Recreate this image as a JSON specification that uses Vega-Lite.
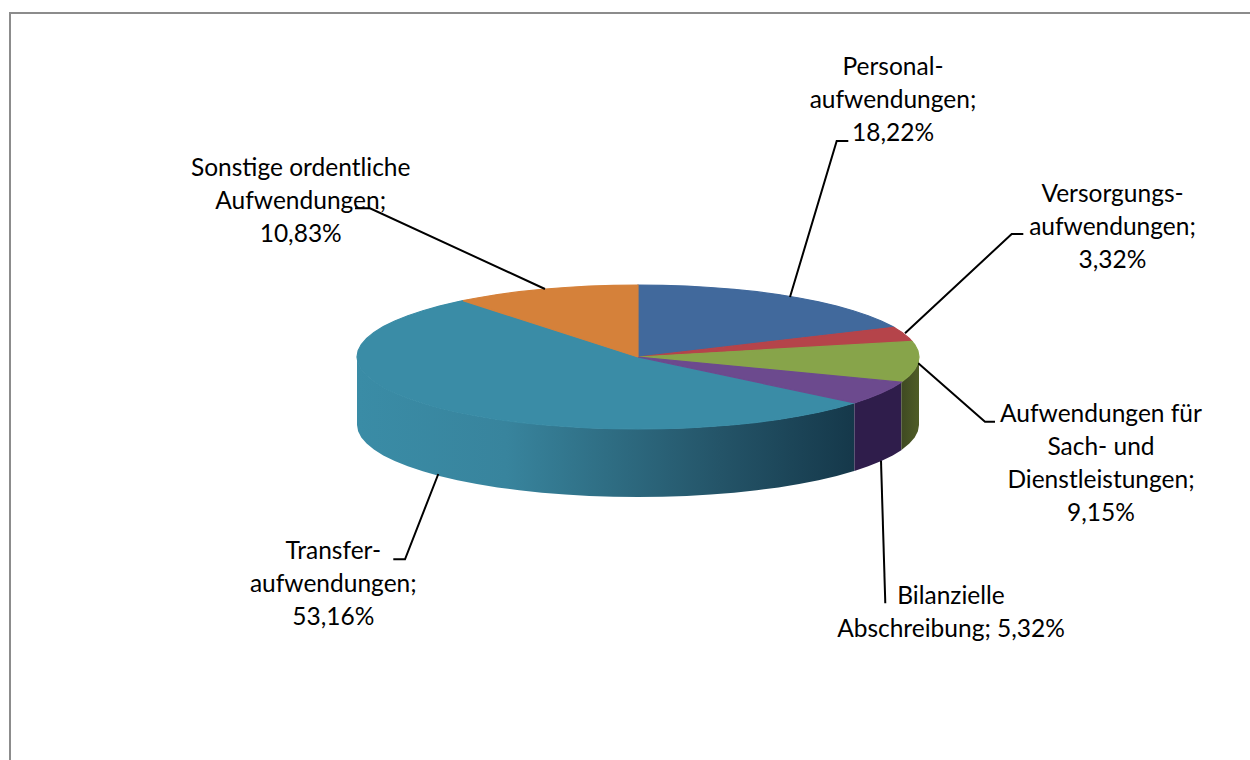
{
"$schema":"https://vega.github.io/schema/vega-lite/v6.json",
"width":1250,"height":760,"padding":0,"autosize":{"type":"none"},"background":"white",
"view":{"stroke":null},
"config":{"view":{"stroke":null}},
"datasets":{
"frame":[{"i":1,"x":10,"y":760},{"i":2,"x":10,"y":13},{"i":3,"x":1250,"y":13}],
"side":[
{"part":"Green","x":919,"y":357,"y2":425},{"part":"Green","x":917.9,"y":363.3,"y2":431.3},{"part":"Green","x":914.7,"y":369.5,"y2":437.5},{"part":"Green","x":909.4,"y":375.6,"y2":443.6},{"part":"Green","x":902.1,"y":381.6,"y2":449.6},{"part":"Green","x":901.3,"y":382.2,"y2":450.2},
{"part":"Purple","x":901.3,"y":382.2,"y2":450.2},{"part":"Purple","x":892.7,"y":387.4,"y2":455.4},{"part":"Purple","x":881.3,"y":393,"y2":461},{"part":"Purple","x":868.2,"y":398.3,"y2":466.3},{"part":"Purple","x":854.4,"y":402.9,"y2":470.9},
{"part":"Teal","x":854.4,"y":402.9,"y2":470.9},{"part":"Teal","x":853.2,"y":403.3,"y2":471.3},{"part":"Teal","x":836.7,"y":407.9,"y2":475.9},{"part":"Teal","x":818.6,"y":412.2,"y2":480.2},{"part":"Teal","x":799.2,"y":416,"y2":484},{"part":"Teal","x":778.5,"y":419.4,"y2":487.4},{"part":"Teal","x":756.8,"y":422.3,"y2":490.3},{"part":"Teal","x":734.1,"y":424.7,"y2":492.7},{"part":"Teal","x":710.7,"y":426.5,"y2":494.5},{"part":"Teal","x":686.8,"y":427.9,"y2":495.9},{"part":"Teal","x":662.5,"y":428.7,"y2":496.7},{"part":"Teal","x":638,"y":429,"y2":497},{"part":"Teal","x":613.5,"y":428.7,"y2":496.7},{"part":"Teal","x":589.2,"y":427.9,"y2":495.9},{"part":"Teal","x":565.3,"y":426.5,"y2":494.5},{"part":"Teal","x":541.9,"y":424.7,"y2":492.7},{"part":"Teal","x":519.2,"y":422.3,"y2":490.3},{"part":"Teal","x":497.5,"y":419.4,"y2":487.4},{"part":"Teal","x":476.8,"y":416,"y2":484},{"part":"Teal","x":457.4,"y":412.2,"y2":480.2},{"part":"Teal","x":439.3,"y":407.9,"y2":475.9},{"part":"Teal","x":422.8,"y":403.3,"y2":471.3},{"part":"Teal","x":407.8,"y":398.3,"y2":466.3},{"part":"Teal","x":394.7,"y":393,"y2":461},{"part":"Teal","x":383.3,"y":387.4,"y2":455.4},{"part":"Teal","x":373.9,"y":381.6,"y2":449.6},{"part":"Teal","x":366.6,"y":375.6,"y2":443.6},{"part":"Teal","x":361.3,"y":369.5,"y2":437.5},{"part":"Teal","x":358.1,"y":363.3,"y2":431.3},{"part":"Teal","x":357,"y":357,"y2":425}
],
"top":[
{"slice":"Transfer","i":0,"x":638,"y":357},{"slice":"Transfer","i":1,"x":854.4,"y":402.9},{"slice":"Transfer","i":2,"x":853.2,"y":403.3},{"slice":"Transfer","i":3,"x":836.7,"y":407.9},{"slice":"Transfer","i":4,"x":818.6,"y":412.2},{"slice":"Transfer","i":5,"x":799.2,"y":416},{"slice":"Transfer","i":6,"x":778.5,"y":419.4},{"slice":"Transfer","i":7,"x":756.8,"y":422.3},{"slice":"Transfer","i":8,"x":734.1,"y":424.7},{"slice":"Transfer","i":9,"x":710.7,"y":426.5},{"slice":"Transfer","i":10,"x":686.8,"y":427.9},{"slice":"Transfer","i":11,"x":662.5,"y":428.7},{"slice":"Transfer","i":12,"x":638,"y":429},{"slice":"Transfer","i":13,"x":613.5,"y":428.7},{"slice":"Transfer","i":14,"x":589.2,"y":427.9},{"slice":"Transfer","i":15,"x":565.3,"y":426.5},{"slice":"Transfer","i":16,"x":541.9,"y":424.7},{"slice":"Transfer","i":17,"x":519.2,"y":422.3},{"slice":"Transfer","i":18,"x":497.5,"y":419.4},{"slice":"Transfer","i":19,"x":476.8,"y":416},{"slice":"Transfer","i":20,"x":457.4,"y":412.2},{"slice":"Transfer","i":21,"x":439.3,"y":407.9},{"slice":"Transfer","i":22,"x":422.8,"y":403.3},{"slice":"Transfer","i":23,"x":407.8,"y":398.3},{"slice":"Transfer","i":24,"x":394.7,"y":393},{"slice":"Transfer","i":25,"x":383.3,"y":387.4},{"slice":"Transfer","i":26,"x":373.9,"y":381.6},{"slice":"Transfer","i":27,"x":366.6,"y":375.6},{"slice":"Transfer","i":28,"x":361.3,"y":369.5},{"slice":"Transfer","i":29,"x":358.1,"y":363.3},{"slice":"Transfer","i":30,"x":357,"y":357},{"slice":"Transfer","i":31,"x":358.1,"y":350.7},{"slice":"Transfer","i":32,"x":361.3,"y":344.5},{"slice":"Transfer","i":33,"x":366.6,"y":338.4},{"slice":"Transfer","i":34,"x":373.9,"y":332.4},{"slice":"Transfer","i":35,"x":383.3,"y":326.6},{"slice":"Transfer","i":36,"x":394.7,"y":321},{"slice":"Transfer","i":37,"x":407.8,"y":315.7},{"slice":"Transfer","i":38,"x":422.8,"y":310.7},{"slice":"Transfer","i":39,"x":439.3,"y":306.1},{"slice":"Transfer","i":40,"x":457.4,"y":301.8},{"slice":"Transfer","i":41,"x":463,"y":300.6},{"slice":"Transfer","i":42,"x":638,"y":357},
{"slice":"Personal","i":0,"x":638,"y":357},{"slice":"Personal","i":1,"x":638,"y":285},{"slice":"Personal","i":2,"x":662.5,"y":285.3},{"slice":"Personal","i":3,"x":686.8,"y":286.1},{"slice":"Personal","i":4,"x":710.7,"y":287.5},{"slice":"Personal","i":5,"x":734.1,"y":289.3},{"slice":"Personal","i":6,"x":756.8,"y":291.7},{"slice":"Personal","i":7,"x":778.5,"y":294.6},{"slice":"Personal","i":8,"x":799.2,"y":298},{"slice":"Personal","i":9,"x":818.6,"y":301.8},{"slice":"Personal","i":10,"x":836.7,"y":306.1},{"slice":"Personal","i":11,"x":853.2,"y":310.7},{"slice":"Personal","i":12,"x":868.2,"y":315.7},{"slice":"Personal","i":13,"x":881.3,"y":321},{"slice":"Personal","i":14,"x":892.7,"y":326.6},{"slice":"Personal","i":15,"x":893.9,"y":327.3},{"slice":"Personal","i":16,"x":638,"y":357},
{"slice":"Versorgung","i":0,"x":638,"y":357},{"slice":"Versorgung","i":1,"x":893.9,"y":327.3},{"slice":"Versorgung","i":2,"x":902.1,"y":332.4},{"slice":"Versorgung","i":3,"x":909.4,"y":338.4},{"slice":"Versorgung","i":4,"x":912,"y":341.4},{"slice":"Versorgung","i":5,"x":638,"y":357},
{"slice":"Sach","i":0,"x":638,"y":357},{"slice":"Sach","i":1,"x":912,"y":341.4},{"slice":"Sach","i":2,"x":914.7,"y":344.5},{"slice":"Sach","i":3,"x":917.9,"y":350.7},{"slice":"Sach","i":4,"x":919,"y":357},{"slice":"Sach","i":5,"x":917.9,"y":363.3},{"slice":"Sach","i":6,"x":914.7,"y":369.5},{"slice":"Sach","i":7,"x":909.4,"y":375.6},{"slice":"Sach","i":8,"x":902.1,"y":381.6},{"slice":"Sach","i":9,"x":901.3,"y":382.2},{"slice":"Sach","i":10,"x":638,"y":357},
{"slice":"Abschreibung","i":0,"x":638,"y":357},{"slice":"Abschreibung","i":1,"x":901.3,"y":382.2},{"slice":"Abschreibung","i":2,"x":892.7,"y":387.4},{"slice":"Abschreibung","i":3,"x":881.3,"y":393},{"slice":"Abschreibung","i":4,"x":868.2,"y":398.3},{"slice":"Abschreibung","i":5,"x":854.4,"y":402.9},{"slice":"Abschreibung","i":6,"x":638,"y":357},
{"slice":"Sonstige","i":0,"x":638,"y":357},{"slice":"Sonstige","i":1,"x":463,"y":300.6},{"slice":"Sonstige","i":2,"x":476.8,"y":298},{"slice":"Sonstige","i":3,"x":497.5,"y":294.6},{"slice":"Sonstige","i":4,"x":519.2,"y":291.7},{"slice":"Sonstige","i":5,"x":541.9,"y":289.3},{"slice":"Sonstige","i":6,"x":565.3,"y":287.5},{"slice":"Sonstige","i":7,"x":589.2,"y":286.1},{"slice":"Sonstige","i":8,"x":613.5,"y":285.3},{"slice":"Sonstige","i":9,"x":638,"y":285},{"slice":"Sonstige","i":10,"x":638,"y":357}
],
"leaders":[
{"leader":"Personal","i":1,"x":790,"y":297},{"leader":"Personal","i":2,"x":836.7,"y":141},{"leader":"Personal","i":3,"x":848.3,"y":141},
{"leader":"Versorgung","i":1,"x":905,"y":333.3},{"leader":"Versorgung","i":2,"x":1011.7,"y":234},{"leader":"Versorgung","i":3,"x":1023.3,"y":234},
{"leader":"Sach","i":1,"x":918.3,"y":363.3},{"leader":"Sach","i":2,"x":985,"y":421.7},{"leader":"Sach","i":3,"x":995,"y":421.7},
{"leader":"Abschreibung","i":1,"x":881,"y":460.7},{"leader":"Abschreibung","i":2,"x":885.3,"y":603.3},
{"leader":"Transfer","i":1,"x":438.3,"y":474},{"leader":"Transfer","i":2,"x":405,"y":559.3},{"leader":"Transfer","i":3,"x":393.3,"y":559.3},
{"leader":"Sonstige","i":1,"x":545,"y":289},{"leader":"Sonstige","i":2,"x":370,"y":208.3},{"leader":"Sonstige","i":3,"x":355,"y":208.3}
],
"labels":[
{"label":"Personal-\naufwendungen;\n18,22%","x":893,"y":75},
{"label":"Versorgungs-\naufwendungen;\n3,32%","x":1112.5,"y":201.7},
{"label":"Aufwendungen für\nSach- und\nDienstleistungen;\n9,15%","x":1101,"y":421.7},
{"label":"Bilanzielle\nAbschreibung; 5,32%","x":951,"y":604},
{"label":"Transfer-\naufwendungen;\n53,16%","x":333.3,"y":559.3},
{"label":"Sonstige ordentliche\nAufwendungen;\n10,83%","x":300.7,"y":176}
]
},
"encoding":{
"x":{"field":"x","type":"quantitative","scale":{"domain":[0,1250],"nice":false,"zero":false},"axis":null},
"y":{"field":"y","type":"quantitative","scale":{"domain":[760,0],"nice":false,"zero":false},"axis":null}
},
"layer":[
{"data":{"name":"frame"},"mark":{"type":"line","stroke":"#8c8c8c","strokeWidth":2,"clip":false},"encoding":{"order":{"field":"i"}}},
{"data":{"name":"side"},"transform":[{"filter":"datum.part==='Teal'"}],
 "mark":{"type":"area","fill":{"gradient":"linear","x1":0,"x2":1,"y1":0,"y2":0,"stops":[{"offset":0,"color":"#3a8ca6"},{"offset":0.3,"color":"#38849d"},{"offset":0.5,"color":"#2f6e84"},{"offset":0.73,"color":"#245468"},{"offset":1,"color":"#15384a"}]}},
 "encoding":{"y2":{"field":"y2"}}},
{"data":{"name":"side"},"transform":[{"filter":"datum.part==='Purple'"}],
 "mark":{"type":"area","fill":"#2f1d4b"},
 "encoding":{"y2":{"field":"y2"}}},
{"data":{"name":"side"},"transform":[{"filter":"datum.part==='Green'"}],
 "mark":{"type":"area","fill":{"gradient":"linear","x1":0,"x2":1,"y1":0,"y2":0,"stops":[{"offset":0,"color":"#3f4a22"},{"offset":1,"color":"#4f5c26"}]}},
 "encoding":{"y2":{"field":"y2"}}},
{"data":{"name":"top"},"mark":{"type":"line","strokeWidth":1.2},
 "encoding":{
  "order":{"field":"i"},
  "detail":{"field":"slice"},
  "fill":{"field":"slice","type":"nominal","legend":null,"scale":{"domain":["Personal","Versorgung","Sach","Abschreibung","Transfer","Sonstige"],"range":["#41699c","#b5444a","#87a44a","#6c4a8e","#3a8ca6","#d5813a"]}},
  "stroke":{"field":"slice","type":"nominal","legend":null,"scale":{"domain":["Personal","Versorgung","Sach","Abschreibung","Transfer","Sonstige"],"range":["#41699c","#b5444a","#87a44a","#6c4a8e","#3a8ca6","#d5813a"]}}
 }},
{"data":{"name":"leaders"},"mark":{"type":"line","stroke":"#000000","strokeWidth":2},
 "encoding":{"order":{"field":"i"},"detail":{"field":"leader"}}},
{"data":{"name":"labels"},"mark":{"type":"text","font":"Lato","fontSize":24.5,"lineBreak":"\n","lineHeight":33,"align":"center","baseline":"alphabetic","fill":"#000000"},
 "encoding":{"text":{"field":"label"}}}
]
}
